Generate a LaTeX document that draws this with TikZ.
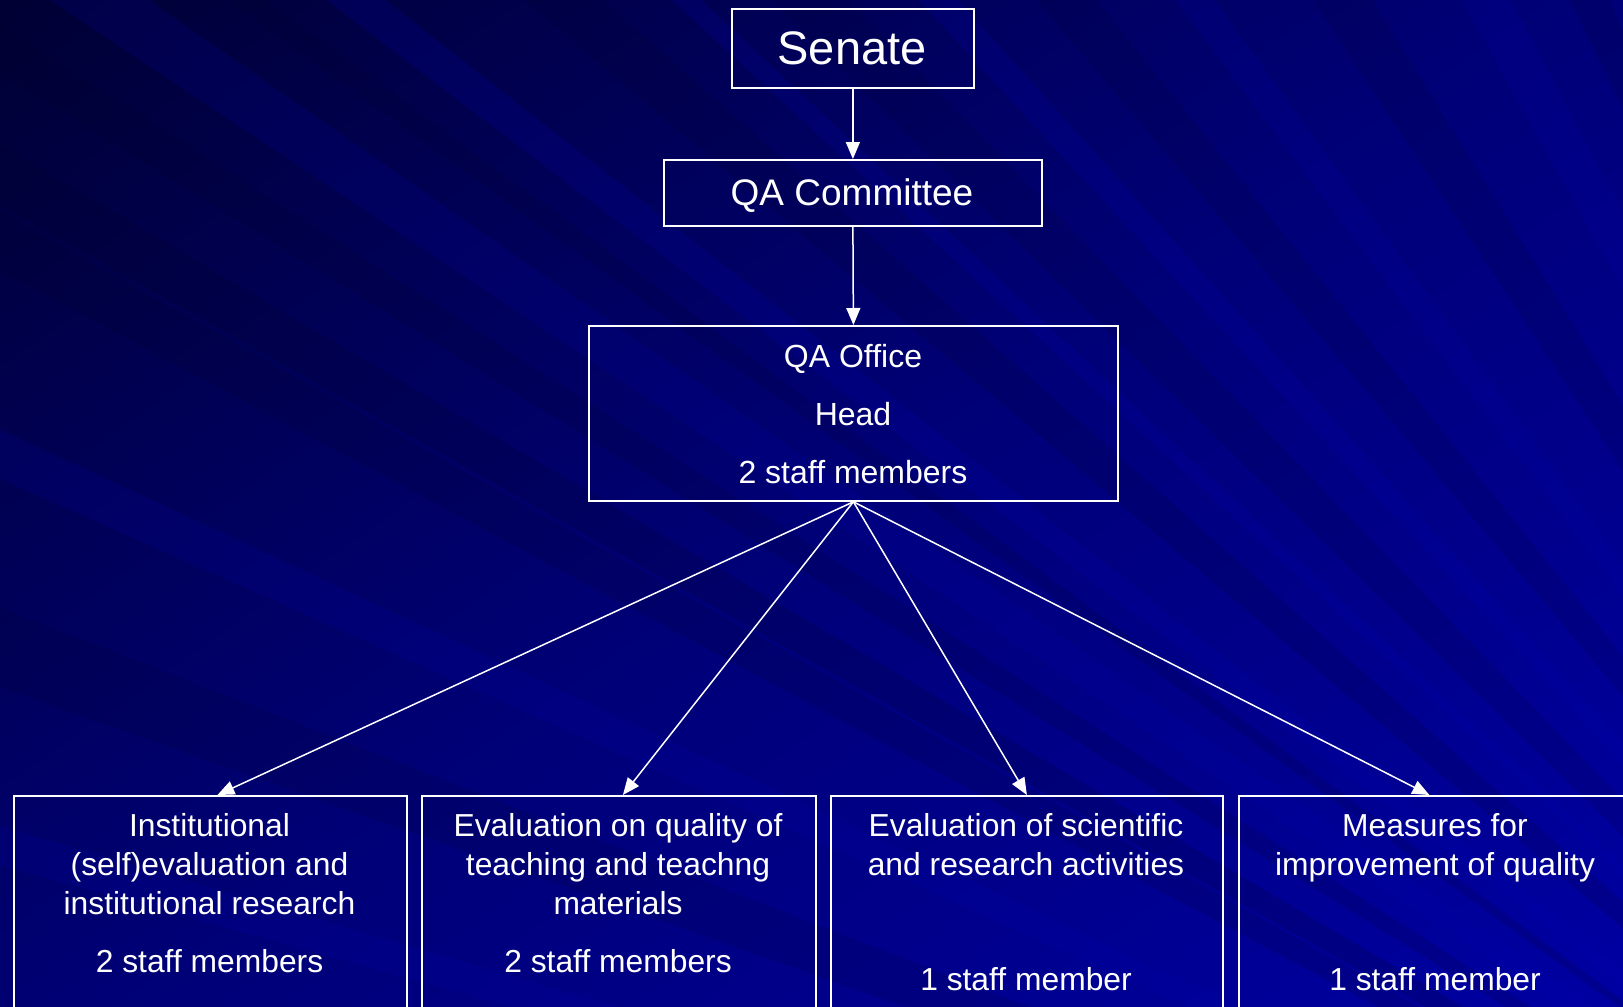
\documentclass[tikz,border=0pt]{standalone}
\usepackage{fontspec}
\setmainfont{Liberation Sans}
\usetikzlibrary{arrows.meta}
\definecolor{bgdark}{RGB}{0,0,48}
\definecolor{bgmid}{RGB}{0,0,118}
\definecolor{bglight}{RGB}{0,0,165}
\definecolor{streakdark}{RGB}{0,0,40}
\definecolor{streaklight}{RGB}{0,0,180}
\tikzset{
  box/.style={draw=white, line width=1.8pt, fill=none, inner sep=0pt, anchor=north west},
  lbl/.style={text=white, anchor=base, inner sep=0pt},
  conn/.style={draw=white, line width=1.5pt, -{Triangle[length=17pt,width=14pt]}},
}
\begin{document}
\begin{tikzpicture}[x=1pt,y=-1pt]
\useasboundingbox (0,0) rectangle (1623,1007);
\clip (0,0) rectangle (1623,1007);
% background
\shade[shading=axis, top color=bgdark, bottom color=bglight, middle color=bgmid, shading angle=35] (-300,-300) rectangle (1923,1307);
% streaks fanning from lower right
\foreach \a/\b/\c/\o in {
  0/120/streakdark/0.18, 250/330/streakdark/0.15, 420/520/streaklight/0.15, 600/640/streakdark/0.15,
  700/760/streaklight/0.18, 900/980/streakdark/0.15, 1050/1080/streaklight/0.18, 1150/1230/streakdark/0.13,
  1300/1340/streaklight/0.18, 1420/1480/streakdark/0.13, 1560/1600/streaklight/0.15, 1700/1760/streakdark/0.13,
  1850/1900/streaklight/0.15, 1960/2000/streakdark/0.15}
  \fill[\c, opacity=\o] (2300,1500) -- (-400+\a,-20) -- (-400+\b,-20) -- cycle;
\foreach \a/\b/\c/\o in {
  200/260/streakdark/0.15, 420/470/streaklight/0.15, 600/680/streakdark/0.13, 820/860/streaklight/0.15}
  \fill[\c, opacity=\o] (2300,1500) -- (-20,\a) -- (-20,\b) -- cycle;
% boxes
\node[box, minimum width=242pt, minimum height=79pt] (senate) at (731,8) {};
\node[box, minimum width=378pt, minimum height=66pt] (qac) at (663,159) {};
\node[box, minimum width=529pt, minimum height=175pt] (qao) at (588,325) {};
\node[box, minimum width=393pt, minimum height=240pt] (b1) at (13,795) {};
\node[box, minimum width=394pt, minimum height=240pt] (b2) at (421,795) {};
\node[box, minimum width=392pt, minimum height=240pt] (b3) at (830,795) {};
\node[box, minimum width=393pt, minimum height=240pt] (b4) at (1238,795) {};
% texts
\node[lbl, font=\fontsize{47}{56}\selectfont] (tsen) at (852,64) {Senate};
\node[lbl, font=\fontsize{37}{44}\selectfont] (tqac) at (852,205) {QA Committee};
\node[lbl, font=\fontsize{32}{38}\selectfont] (to1) at (853,367) {QA Office};
\node[lbl, font=\fontsize{32}{38}\selectfont] (to2) at (853,425) {Head};
\node[lbl, font=\fontsize{32}{38}\selectfont] (to3) at (853,483) {2 staff members};
\foreach \n/\x/\y/\t in {
  t1a/209.5/836/Institutional, t1b/209.5/875/(self)evaluation and, t1c/209.5/914/institutional research, t1d/209.5/972/2 staff members,
  t2a/618/836/Evaluation on quality of, t2b/618/875/teaching and teachng, t2c/618/914/materials, t2d/618/972/2 staff members,
  t3a/1026/836/Evaluation of scientific, t3b/1026/875/and research activities, t3c/1026/990/1 staff member,
  t4a/1435/836/Measures for, t4b/1435/875/improvement of quality, t4c/1435/990/1 staff member}
  \node[lbl, font=\fontsize{31.8}{38}\selectfont] (\n) at (\x,\y) {\t};
% connectors
\draw[conn] (senate.south) -- (qac.north);
\draw[conn] (qac.south) -- (qao.north);
\draw[conn] (qao.south) -- ([xshift=7pt]b1.north);
\draw[conn] (qao.south) -- ([xshift=4pt]b2.north);
\draw[conn] (qao.south) -- (b3.north);
\draw[conn] (qao.south) -- ([xshift=-6pt]b4.north);
\end{tikzpicture}
\end{document}
